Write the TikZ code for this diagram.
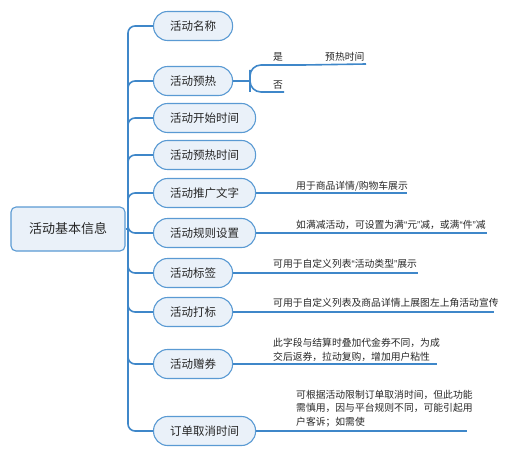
\documentclass[tikz,border=0pt]{standalone}
\usepackage{fontspec}
\setmainfont{Noto Sans CJK SC}
\newfontfamily\quotefont{Liberation Sans}
\newcommand\openq{{\quotefont “}}
\newcommand\closeq{{\quotefont ”}}
\usetikzlibrary{positioning}
\definecolor{linkblue}{HTML}{3F87C9}
\definecolor{pillfill}{HTML}{EAF1F9}
\definecolor{pilldraw}{HTML}{5A9AD3}
\definecolor{inktext}{HTML}{262626}

\begin{document}
\begin{tikzpicture}[x=1pt,y=-1pt,
    every node/.style={text=inktext},
    pill/.style={draw=pilldraw,fill=pillfill,line width=1.1pt,rounded corners=14pt,minimum height=29pt,anchor=west,font=\fontsize{11.5}{13}\selectfont},
    rootbox/.style={draw=pilldraw,fill=pillfill,line width=1.1pt,rounded corners=5pt,minimum width=114pt,minimum height=44pt,font=\fontsize{13}{15}\selectfont},
    link/.style={draw=linkblue,line width=1.6pt},
    note/.style={anchor=west,inner sep=0pt,align=left,font=\fontsize{9.8}{13.5}\selectfont}]
                \useasboundingbox (0,0) rectangle (505,457);
                \node[rootbox] (root) at (68,229) {活动基本信息};
                \coordinate (trunk) at (128,229);
                \draw[link] (root.east) -- (trunk);

                \foreach \i/\y/\w/\txt in {1/26/79/活动名称,2/81/79/活动预热,3/118/102/活动开始时间,
                    4/155/102/活动预热时间,5/193/102/活动推广文字,6/233/102/活动规则设置,
                    7/273/79/活动标签,8/312/79/活动打标,9/364/79/活动赠券,10/431/102/订单取消时间}{
                    \node[pill,minimum width=\w pt] (c\i) at (153,\y) {\txt};
                    \draw[link,rounded corners=7pt] (trunk) |- (c\i.west);
                }

                \coordinate (pre) at (250,81);
                \coordinate (yes) at (303,65);
                \coordinate (no) at (284,92);
                \coordinate (preend) at (366,64);
                \draw[link] (c2.east) -- (pre);
                \draw[link,rounded corners=11pt] (yes) -| (pre) |- (no);
                \draw[link] (yes) -- (preend);
                \node[note] (yeslabel) at (273,57) {是};
                \node[note] (nolabel) at (273,85) {否};
                \node[note] (pretime) at (325,57) {预热时间};

                \coordinate (e5) at (407,193);
                \coordinate (e6) at (487,233);
                \coordinate (e7) at (418,273);
                \coordinate (e8) at (494,312);
                \coordinate (e9) at (437,364);
                \coordinate (e10) at (467,431);
                \foreach \i in {5,...,10}
                    \draw[link] (c\i.east) -- (e\i);

                \node[note] (n5) at (296,186) {用于商品详情/购物车展示};
                \node[note] (n6) at (296,225) {如满减活动，可设置为满\openq 元\closeq 减，或满\openq 件\closeq 减};
                \node[note] (n7) at (273,264) {可用于自定义列表\openq 活动类型\closeq 展示};
                \node[note] (n8) at (273,303) {可用于自定义列表及商品详情上展图左上角活动宣传};
                \node[note] (n9) at (273,350) {此字段与结算时叠加代金券不同，为成\\交后返券，拉动复购，增加用户粘性};
                \node[note] (n10) at (296,408.5) {可根据活动限制订单取消时间，但此功能\\需慎用，因与平台规则不同，可能引起用\\户客诉；如需使};
            \end{tikzpicture}
\end{document}
